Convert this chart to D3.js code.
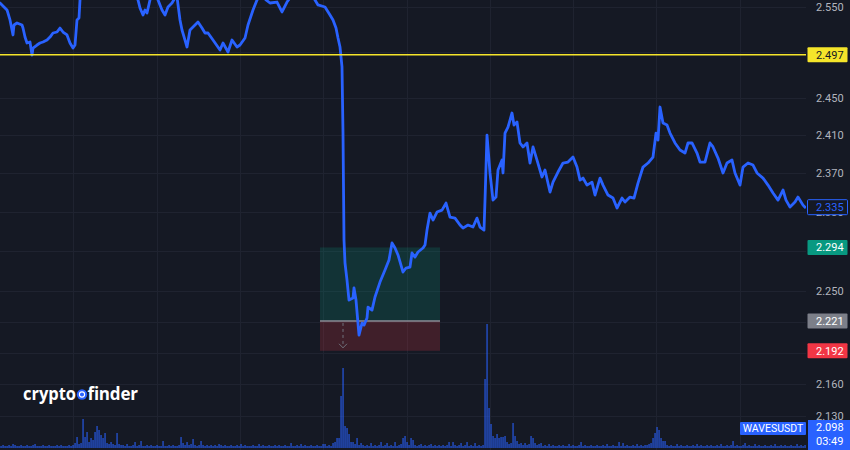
<!DOCTYPE html>
<html>
<head>
<meta charset="utf-8">
<script src="https://cdn.jsdelivr.net/npm/d3@7"></script>
<style>
html,body{margin:0;padding:0;background:#151924;}
svg{display:block;}
</style>
</head>
<body>
<svg id="chart" width="850" height="450"></svg>
<script>
// ---------- DATA ----------
const times = [0,7,10,13,14,17,22,23,25,27,30,32,33,37,40,43,47,50,53,57,60,63,67,70,73,75,77,79,80,
85,95,105,115,125,133,138,140,143,145,147,150,154,158,162,165,168,172,175,177,180,182,185,187,190,193,198,
202,205,208,213,220,223,228,232,237,240,245,248,253,257,262,266,270,277,282,287,290,300,310,315,318,325,
330,333,336,338,340,342,343,344,345,347,349,353,354,356,359,362,364,367,368,372,375,380,385,389,392,395,
398,403,406,410,412,415,418,423,425,427,430,433,437,442,446,450,455,460,463,468,473,477,480,484,485,487,
490,493,496,498,502,503,505,508,512,514,517,520,523,527,530,533,537,542,545,550,553,558,563,568,573,577,
580,583,587,592,595,600,603,608,613,617,622,625,630,634,638,643,648,653,656,658,660,663,667,670,675,680,
685,688,692,697,700,705,710,713,718,723,727,732,735,740,743,748,753,757,763,768,773,778,783,786,790,795,
798,803,805];
const prices = [2.5545,2.5467,2.5355,2.5188,2.5299,2.5321,2.5299,2.5265,2.5165,2.5099,2.5110,2.4967,2.5044,
2.5077,2.5099,2.5110,2.5132,2.5165,2.5210,2.5221,2.5265,2.5221,2.5188,2.5099,2.5044,2.5077,2.5355,2.5377,2.5579,
2.5748,2.5862,2.5805,2.5896,2.5782,2.5669,2.5579,2.5489,2.5411,2.5467,2.5433,2.5579,2.5692,2.5579,2.5467,2.5411,
2.5500,2.5545,2.5602,2.5613,2.5355,2.5243,2.5132,2.5055,2.5243,2.5276,2.5332,
2.5265,2.5210,2.5210,2.5132,2.5022,2.5099,2.5000,2.5132,2.5055,2.5077,2.5154,2.5299,2.5467,2.5579,2.5647,2.5579,
2.5545,2.5556,2.5444,2.5556,2.5602,2.5715,2.5647,2.5579,2.5523,2.5500,
2.5411,2.5355,2.5265,2.5154,2.5055,2.4836,2.4124,2.3015,2.2783,2.2613,2.2415,2.2435,2.2534,2.2415,2.2072,2.2189,
2.2169,2.2238,2.2346,2.2316,2.2445,2.2593,2.2713,2.2813,2.2985,2.2934,
2.2864,2.2693,2.2733,2.2743,2.2884,2.2843,2.2894,2.2934,2.2965,2.3116,2.3289,2.3218,2.3300,2.3320,2.3392,2.3249,
2.3238,2.3167,2.3136,2.3167,2.3147,2.3238,2.3147,2.3116,2.3423,2.4103,
2.3704,2.3423,2.3454,2.3735,2.3839,2.3704,2.4124,2.4188,2.4338,2.4209,2.4241,2.4019,2.3977,2.4019,2.3808,2.3977,
2.3839,2.3662,2.3735,2.3506,2.3609,2.3714,2.3808,2.3818,2.3871,2.3766,
2.3630,2.3651,2.3578,2.3609,2.3475,2.3651,2.3578,2.3475,2.3444,2.3341,2.3444,2.3403,2.3454,2.3444,2.3599,2.3766,
2.3808,2.3871,2.4124,2.4050,2.4402,2.4231,2.4209,2.4124,2.4019,2.3945,
2.3913,2.4019,2.4019,2.3913,2.3818,2.3818,2.4019,2.3977,2.3860,2.3704,2.3808,2.3839,2.3704,2.3578,2.3766,2.3808,
2.3787,2.3704,2.3651,2.3578,2.3496,2.3423,2.3527,2.3423,2.3351,2.3403,
2.3454,2.3371,2.3350];

// volume (K), one bar per 2 time units starting at 1
const volStart = 1, volStep = 2;
const volumes = [
2,3,2,2,3,2,4,3,2,2,3,2,2,3,2,2,3,4,2,2,2,3,2,2,3,2,2,2,3,2,3,2,2,2,3,2,
3,5,11,4,5,29,11,16,6,10,8,16,22,18,13,10,15,5,4,6,4,3,15,4,3,
3,2,4,2,2,3,6,2,3,7,2,2,3,2,3,2,2,3,2,2,7,2,2,3,2,3,2,2,3,
11,5,3,6,3,4,9,3,2,3,7,3,2,3,2,3,
2,3,2,4,3,2,3,2,2,3,2,2,3,2,4,2,3,2,2,2,3,2,2,4,2,3,2,2,3,2,2,3,2,3,2,2,3,2,2,5,2,2,3,2,4,2,3,2,2,3,2,2,3,2,2,4,4,2,3,2,
5,6,10,10,52,80,22,20,14,6,6,4,10,3,5,
3,2,3,2,5,2,3,2,3,6,2,3,5,2,3,2,6,2,3,4,10,12,6,3,10,8,3,2,3,4,2,3,2,3,4,2,3,2,3,2,3,2,3,6,2,6,3,2,3,5,2,3,6,2,3,2,5,2,3,2,3,
69,124,40,24,12,10,14,10,11,11,12,6,4,5,25,12,7,4,5,3,5,3,4,12,10,5,3,4,5,
2,3,2,4,2,3,2,2,3,2,3,2,2,4,2,3,2,2,3,6,2,3,2,2,3,2,2,3,2,2,3,2,4,2,2,3,2,2,6,2,5,2,3,2,2,3,2,4,2,3,2,3,
3,4,5,10,15,21,18,10,7,7,3,
2,3,2,2,4,2,3,2,2,3,2,2,3,2,4,2,3,2,2,3,2,3,2,2,3,2,4,2,2,3,2,3,7,2,3,2,2,3,5,2,
3,2,2,4,2,3,2,2,3,2,2,3,2,4,2,2,3,2,3,2,2,3,2,2,4,2,3,2,3];

const gridTimes = [73,157,240,323,407,490,573,656,740];
const priceTicks = [2.550,2.500,2.450,2.410,2.370,2.330,2.290,2.250,2.220,2.190,2.160,2.130];
// tick labels that are not covered by a price label box
const tickLabels = [2.550,2.450,2.410,2.370,2.330,2.250,2.160,2.130];

const alertLevel = 2.497;
const lastPrice = 2.335;
const position = {start:320, end:440, entry:2.221, target:2.294, stop:2.192, markTime:343};
const symbolName = "WAVESUSDT";
const symbolPrice = "2.098";
const countdown = "03:49";

// ---------- LAYOUT ----------
const W = 850, H = 450, plotW = 806;
const svg = d3.select("#chart");
const x = d3.scaleLinear().domain([0, 805]).range([0, 805]);
const y = d3.scaleLog().domain([2.130, 2.550]).range([416, 7]);
const yVol = d3.scaleLinear().domain([0, 124]).range([448, 324]);

svg.append("rect").attr("width", W).attr("height", H).attr("fill", "#151924");

svg.append("defs").append("clipPath").attr("id","plotclip")
  .append("rect").attr("x",0).attr("y",0).attr("width",plotW).attr("height",H);

const plot = svg.append("g").attr("clip-path","url(#plotclip)");

// grid
plot.selectAll("line.vg").data(gridTimes).join("line")
  .attr("x1", d=>Math.round(x(d))+0.5).attr("x2", d=>Math.round(x(d))+0.5)
  .attr("y1",0).attr("y2",H).attr("stroke","#1f2330").attr("stroke-width",1);
plot.selectAll("line.hg").data(priceTicks).join("line")
  .attr("x1",0).attr("x2",plotW)
  .attr("y1", d=>Math.round(y(d))+0.5).attr("y2", d=>Math.round(y(d))+0.5)
  .attr("stroke","#1f2330").attr("stroke-width",1);

// volume
plot.selectAll("rect.vol").data(volumes).join("rect")
  .attr("x",(d,i)=>x(volStart+i*volStep)-0.6)
  .attr("width",1.3)
  .attr("y",d=>yVol(d))
  .attr("height",d=>yVol(0)-yVol(d))
  .attr("fill","#2962ff").attr("opacity",0.8);

// position tool
plot.append("rect").attr("x",x(position.start)).attr("width",x(position.end)-x(position.start))
  .attr("y",y(position.target)).attr("height",y(position.entry)-y(position.target))
  .attr("fill","rgba(8,153,129,0.2)");
plot.append("rect").attr("x",x(position.start)).attr("width",x(position.end)-x(position.start))
  .attr("y",y(position.entry)).attr("height",y(position.stop)-y(position.entry))
  .attr("fill","rgba(242,54,69,0.2)");
plot.append("line").attr("x1",x(position.start)).attr("x2",x(position.end))
  .attr("y1",y(position.entry)).attr("y2",y(position.entry))
  .attr("stroke","#8a8d96").attr("stroke-width",1.5);
plot.append("line").attr("x1",x(position.markTime)).attr("x2",x(position.markTime))
  .attr("y1",y(position.entry)+2).attr("y2",y(position.stop)-3)
  .attr("stroke","#6f727c").attr("stroke-width",1).attr("stroke-dasharray","3,3");
plot.append("path")
  .attr("d",`M${x(position.markTime)-4},${y(position.stop)-7} L${x(position.markTime)},${y(position.stop)-3} L${x(position.markTime)+4},${y(position.stop)-7}`)
  .attr("fill","none").attr("stroke","#6f727c").attr("stroke-width",1);

// price line
const line = d3.line().x((d,i)=>x(times[i])).y(d=>y(d)).curve(d3.curveLinear);
plot.append("path").datum(prices).attr("d",line)
  .attr("fill","none").attr("stroke","#2962ff").attr("stroke-width",2.8)
  .attr("stroke-linejoin","round").attr("stroke-linecap","round");

// alert horizontal line
plot.append("line").attr("x1",0).attr("x2",plotW)
  .attr("y1",y(alertLevel)).attr("y2",y(alertLevel))
  .attr("stroke","#f5e52a").attr("stroke-width",1.5);

// logo
const logo = svg.append("g").attr("transform","translate(23,400)");
logo.append("text").attr("x",0).attr("y",0).text("crypto")
  .attr("font-family","'Open Sans', Lato, sans-serif").attr("font-weight","700")
  .attr("font-size",17).attr("fill","#ffffff")
  .attr("textLength",53).attr("lengthAdjust","spacingAndGlyphs");
logo.append("circle").attr("cx",59).attr("cy",-5.5).attr("r",5.2).attr("fill","#2962ff");
logo.append("circle").attr("cx",59).attr("cy",-5.5).attr("r",2.6).attr("fill","none")
  .attr("stroke","#ffffff").attr("stroke-width",1.1);
logo.append("text").attr("x",64.5).attr("y",0).text("finder")
  .attr("font-family","'Open Sans', Lato, sans-serif").attr("font-weight","700")
  .attr("font-size",17).attr("fill","#ffffff").attr("letter-spacing","-0.2");

// axis labels
const axisX = 816;
svg.append("g").selectAll("text").data(tickLabels).join("text")
  .attr("x",axisX).attr("y",d=>y(d)).attr("dy","0.35em")
  .attr("font-family","Roboto, 'Liberation Sans', sans-serif").attr("font-size",11)
  .attr("fill","#b2b5be").text(d=>d3.format(".3f")(d));

// price label boxes
function priceBox(v, fill, stroke, color){
  const g = svg.append("g");
  const cy = y(v);
  g.append("rect").attr("x",807.5).attr("y",cy-7.5).attr("width",40).attr("height",15)
    .attr("fill",fill).attr("stroke",stroke||"none").attr("stroke-width",1).attr("rx",1);
  g.append("text").attr("x",axisX).attr("y",cy).attr("dy","0.35em")
    .attr("font-family","Roboto, 'Liberation Sans', sans-serif").attr("font-size",11)
    .attr("fill",color).text(d3.format(".3f")(v));
}
priceBox(alertLevel, "#f5e52a", null, "#131722");
priceBox(lastPrice, "#151924", "#2962ff", "#2962ff");
priceBox(position.target, "#089981", null, "#ffffff");
priceBox(position.entry, "#7c7f89", null, "#ffffff");
priceBox(position.stop, "#f23645", null, "#ffffff");

// symbol label at bottom
svg.append("rect").attr("x",740).attr("y",422).attr("width",66).attr("height",13).attr("fill","#2962ff").attr("rx",1);
svg.append("text").attr("x",773).attr("y",428.5).attr("dy","0.35em").attr("text-anchor","middle")
  .attr("font-family","Roboto, 'Liberation Sans', sans-serif").attr("font-size",10.5)
  .attr("fill","#ffffff").text(symbolName);
svg.append("rect").attr("x",808).attr("y",420).attr("width",42).attr("height",30).attr("fill","#2962ff");
svg.append("text").attr("x",axisX).attr("y",427.5).attr("dy","0.35em")
  .attr("font-family","Roboto, 'Liberation Sans', sans-serif").attr("font-size",11)
  .attr("fill","#ffffff").text(symbolPrice);
svg.append("text").attr("x",axisX).attr("y",441).attr("dy","0.35em")
  .attr("font-family","Roboto, 'Liberation Sans', sans-serif").attr("font-size",11)
  .attr("fill","#ffffff").text(countdown);
</script>
</body>
</html>
